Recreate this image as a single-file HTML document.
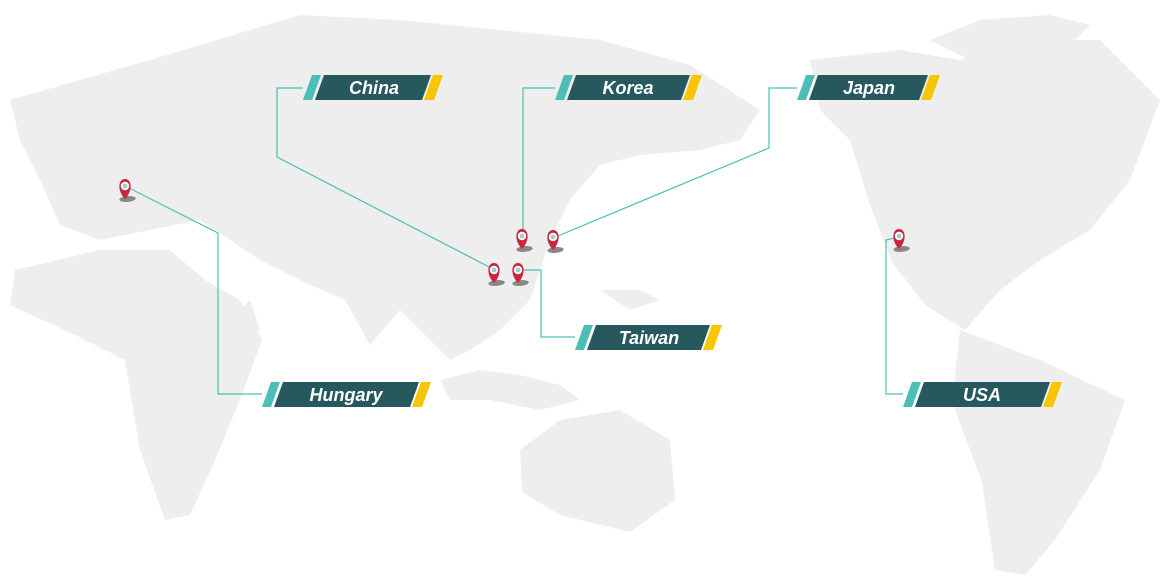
<!DOCTYPE html>
<html><head><meta charset="utf-8"><style>
html,body{margin:0;padding:0;background:#fff;}
svg{display:block}
text{font-family:"Liberation Sans",sans-serif;font-weight:bold;font-style:italic;fill:#fff;font-size:18px}
</style></head><body>
<svg width="1168" height="579" viewBox="0 0 1168 579" xmlns="http://www.w3.org/2000/svg">
<g fill="#eeeeee">
<polygon points="10,100 80,80 150,60 200,45 250,30 300,15 400,20 500,30 600,40 690,65 760,110 740,140 700,150 640,155 600,165 570,200 550,240 530,300 500,330 470,350 450,360 430,340 400,310 370,345 345,300 300,280 260,260 230,240 200,220 150,230 100,240 60,225 40,180 20,140"/>
<polygon points="15,270 100,250 170,250 205,280 240,300 262,340 240,400 215,460 190,515 165,520 140,450 125,360 75,335 10,305"/>
<polygon points="520,450 560,420 620,410 670,440 675,500 630,532 560,515 522,492"/>
<polygon points="440,380 480,370 520,375 560,385 580,400 540,410 490,400 450,400"/>
<polygon points="810,60 900,50 960,60 1000,40 1100,40 1160,100 1130,180 1090,230 1040,260 1000,290 965,330 925,305 892,262 870,205 850,140 820,110"/>
<polygon points="930,40 980,20 1050,15 1090,25 1060,55 980,65"/>
<polygon points="960,330 1040,360 1125,400 1100,470 1055,540 1025,575 995,570 982,482 952,402"/>
<polygon points="600,290 640,290 660,300 630,310"/>
<polygon points="230,320 250,300 260,330 245,345"/>
</g>
<g fill="none" stroke="#4dbdb8" stroke-width="1.2">
<polyline points="303,88 277,88 277,157 495,270"/>
<polyline points="555,88 523,88 523,236"/>
<polyline points="797,88 769,88 769,148 553,238"/>
<polyline points="518,270 541,270 541,337 575,337"/>
<polyline points="125,186 218,233 218,394 262,394"/>
<polyline points="899,237 886,240 886,394 903,394"/>
</g>
<defs>
<g id="pin">
<ellipse cx="6" cy="6" rx="8" ry="3" fill="#888" transform="skewX(-30)"/>
<path d="M0,6 C-8,-2 -7,-14 0,-14 C7,-14 8,-2 0,6Z" fill="#c8283e"/>
<circle cx="0" cy="-7" r="4.2" fill="#fff"/>
<circle cx="0" cy="-7" r="2.4" fill="#9bcfcf"/>
</g>
</defs>
<use href="#pin" x="125" y="193"/>
<use href="#pin" x="522" y="243"/>
<use href="#pin" x="553" y="244"/>
<use href="#pin" x="494" y="277"/>
<use href="#pin" x="518" y="277"/>
<use href="#pin" x="899" y="243"/>
<g>
<polygon points="312,75 321,75 312,100 303,100" fill="#4dbdb8"/>
<polygon points="324,75 431,75 422,100 315,100" fill="#26585e"/>
<polygon points="433,75 443,75 434,100 424,100" fill="#f7c600"/>
<text x="374" y="94" text-anchor="middle">China</text>
<polygon points="564,75 573,75 564,100 555,100" fill="#4dbdb8"/>
<polygon points="576,75 690,75 681,100 567,100" fill="#26585e"/>
<polygon points="692,75 702,75 693,100 683,100" fill="#f7c600"/>
<text x="628" y="94" text-anchor="middle">Korea</text>
<polygon points="806,75 815,75 806,100 797,100" fill="#4dbdb8"/>
<polygon points="818,75 928,75 919,100 809,100" fill="#26585e"/>
<polygon points="930,75 940,75 931,100 921,100" fill="#f7c600"/>
<text x="869" y="94" text-anchor="middle">Japan</text>
<polygon points="584,325 593,325 584,350 575,350" fill="#4dbdb8"/>
<polygon points="596,325 710,325 701,350 587,350" fill="#26585e"/>
<polygon points="712,325 722,325 713,350 703,350" fill="#f7c600"/>
<text x="649" y="344" text-anchor="middle">Taiwan</text>
<polygon points="271,382 280,382 271,407 262,407" fill="#4dbdb8"/>
<polygon points="283,382 419,382 410,407 274,407" fill="#26585e"/>
<polygon points="421,382 431,382 422,407 412,407" fill="#f7c600"/>
<text x="346" y="401" text-anchor="middle">Hungary</text>
<polygon points="912,382 921,382 912,407 903,407" fill="#4dbdb8"/>
<polygon points="924,382 1050,382 1041,407 915,407" fill="#26585e"/>
<polygon points="1052,382 1062,382 1053,407 1043,407" fill="#f7c600"/>
<text x="982" y="401" text-anchor="middle">USA</text>
</g>
</svg>
</body></html>
